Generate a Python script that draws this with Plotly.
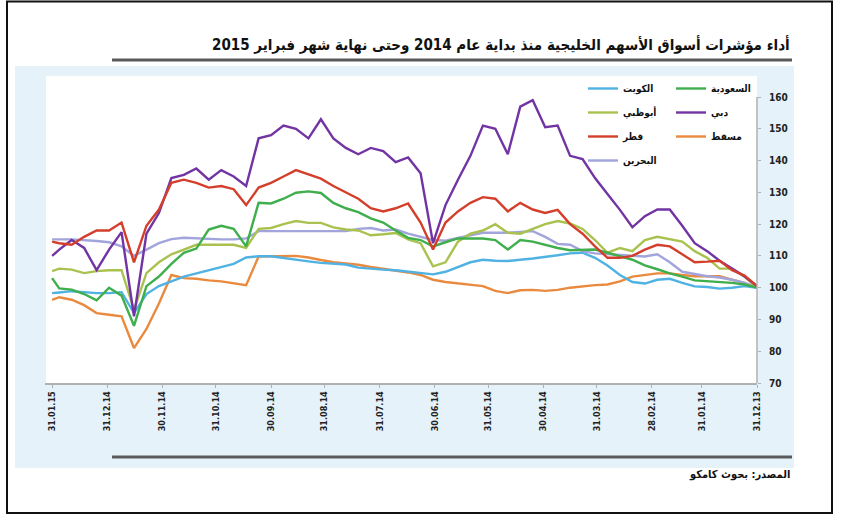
import pandas as pd
import plotly.graph_objects as go

# ---------------- data ----------------
dates = list(pd.date_range("2013-12-31", periods=57, freq="7D").strftime("%Y-%m-%d")) + ["2015-01-31"]

kuwait = [100, 100.5, 100, 99.7, 100.2, 100.4, 101.5, 102.8, 102.5, 101.3,
          101.8, 104, 107, 109.4, 111, 110.8, 110.2, 109.6, 109.2, 108.8,
          108.4, 108.5, 108.8, 108, 106.5, 105, 104.2, 104.6, 105.2, 105.5,
          105.7, 106, 106.3, 107.3, 107.5, 107.8, 108.3, 108.8, 109.4, 109.9,
          109.9, 109.5, 107.5, 106.5, 105.5, 104.6, 103.5, 102, 100.5, 98,
          92, 98.6, 98.3, 98.3, 98.5, 98.9, 98.5, 98.3]

saudi = [100, 101, 101.5, 101.8, 102, 102.3, 103.5, 104.5, 105.8, 107,
         108.8, 110, 111, 112, 112, 111.8, 112.5, 113.5, 114.5, 115,
         112, 115, 115.5, 115.5, 115.5, 114.3, 113, 115, 115.7, 118,
         120.5, 121.8, 123.8, 125, 126.7, 129.8, 130.3, 129.9, 128, 126.5,
         126.7, 113, 118.5, 119.5, 118.3, 112.3, 111, 107.5, 103.5, 100.5,
         88, 97.5, 100, 96, 98, 99.4, 99.8, 103]

abudhabi = [100, 103.5, 106, 106, 109.4, 111.5, 114.5, 115.2, 116, 115,
            111.5, 112.5, 111, 115, 118.5, 120.2, 121, 120, 118.5, 117,
            117.3, 120, 118, 117, 114.5, 108, 106.7, 114, 115.2, 117.2,
            116.8, 116.5, 118, 118.3, 119, 120.4, 120.4, 121, 120, 118.8,
            118.5, 112.5, 113.5, 113.5, 113.5, 113.5, 112, 110.5, 108, 104.6,
            93, 105.5, 105.5, 105.2, 104.6, 105.7, 106, 105.2]

dubai = [100.5, 103.5, 106, 108.5, 111.5, 114, 119.5, 124.6, 124.6, 122.5,
         119, 124.5, 129.5, 134.5, 140.5, 141.5, 151, 150.5, 159, 157,
         142, 150, 151, 141.5, 134, 126, 114, 136, 141, 139.5,
         143, 144, 142, 144, 147, 153, 147, 150, 151, 148,
         147, 132, 135, 137, 134, 137.5, 135.5, 134.5, 123.5, 117,
         91, 117.5, 112, 105.5, 112.5, 115, 112, 110]

qatar = [100.5, 103.8, 105.5, 108.5, 108.2, 108, 110.5, 113, 113.5, 112,
         110, 109.4, 109.4, 113, 117, 120, 124.5, 123.5, 124.6, 126.7,
         124, 128, 128.5, 126.7, 124, 120.5, 112, 120.5, 126.5, 125,
         124, 125, 128, 130, 132, 134.3, 135.7, 137, 135, 133,
         131.5, 126, 131, 132, 131.5, 133, 134, 133, 124.6, 119.5,
         108, 120.5, 118, 118, 116, 113.5, 114, 114.5]

muscat = [100, 101.5, 102.5, 103.6, 103.6, 103.6, 104, 104.5, 104.5, 104,
          103.5, 102, 101, 100.8, 100.5, 100, 99.3, 99, 99.3, 99.2,
          98.3, 99, 100.5, 100.9, 101.2, 101.8, 102.5, 104, 104.8, 105.3,
          106, 106.5, 107.2, 107.6, 108, 108.7, 109.5, 110, 109.9, 110,
          109.8, 100.8, 101.5, 102, 102.3, 102.8, 103, 104, 95, 87,
          81, 91, 91.5, 92, 94.5, 96.2, 97, 96.2]

bahrain = [100, 101.5, 102.5, 103.2, 103.6, 104.2, 105, 108, 110.5, 109.8,
           110, 110.3, 110.5, 110.8, 111.5, 113.5, 113.8, 116, 117.8, 117.5,
           117.3, 117.3, 117.3, 116.5, 115.7, 114.8, 115, 116, 117, 118.3,
           118, 118.8, 118.5, 117.8, 117.8, 117.8, 118, 117.8, 117.8, 117.8,
           117.8, 115.5, 115.2, 115.2, 115.3, 115.5, 115.7, 115.3, 114, 112,
           110, 113, 114.3, 114.7, 115, 115.2, 115.2, 115.2]

tick_dates = ["2013-12-31", "2014-01-31", "2014-02-28", "2014-03-31", "2014-04-30",
              "2014-05-31", "2014-06-30", "2014-07-31", "2014-08-31", "2014-09-30",
              "2014-10-31", "2014-11-30", "2014-12-31", "2015-01-31"]
tick_labels = ["31.12.13", "31.01.14", "28.02.14", "31.03.14", "30.04.14",
               "31.05.14", "30.06.14", "31.07.14", "31.08.14", "30.09.14",
               "31.10.14", "30.11.14", "31.12.14", "31.01.15"]
y_ticks = [70, 80, 90, 100, 110, 120, 130, 140, 150, 160]

title_text = "أداء مؤشرات أسواق الأسهم الخليجية منذ بداية عام 2014 وحتى نهاية شهر فبراير 2015"
source_text = "المصدر: بحوث كامكو"

# ---------------- figure ----------------
W, H = 856, 527
L, R, T, B = 45, 757, 78, 383   # plot area in pixels


def px(x):
    return (x - L) / (R - L)


def py(y):
    return (B - y) / (B - T)


FONT = "DejaVu Sans Condensed, DejaVu Sans, sans-serif"

series = [
    ("الكويت", kuwait, "#4fb2e3", "legend"),
    ("أبوظبي", abudhabi, "#a9c24f", "legend"),
    ("قطر", qatar, "#d43f2c", "legend"),
    ("البحرين", bahrain, "#a2a4dc", "legend"),
    ("السعودية", saudi, "#3fae4c", "legend2"),
    ("دبي", dubai, "#7234a3", "legend2"),
    ("مسقط", muscat, "#ea8a3f", "legend2"),
]

fig = go.Figure()
draw_order = ["مسقط", "الكويت", "البحرين", "أبوظبي", "السعودية", "دبي", "قطر"]
lookup = {s[0]: s for s in series}
names = [s[0] for s in series]
for name in draw_order:
    n, vals, col, lg = lookup[name]
    fig.add_trace(go.Scatter(
        x=dates, y=vals, mode="lines", name="<b>" + n + "</b>",
        line=dict(color=col, width=2.4), legend=lg, legendgroup=n,
        legendrank=names.index(n),
    ))

shapes = [
    # light blue panel
    dict(type="rect", xref="paper", yref="paper", x0=px(15), x1=px(794), y0=py(468), y1=py(66),
         fillcolor="#e5f2f9", line=dict(width=0), layer="below"),
    # white plot area
    dict(type="rect", xref="paper", yref="paper", x0=px(46), x1=px(757), y0=py(384), y1=py(76),
         fillcolor="#ffffff", line=dict(width=0), layer="below"),
    # y axis line
    dict(type="line", xref="paper", yref="y", x0=1, x1=1, y0=70, y1=160,
         line=dict(color="#b0b0b0", width=1.5)),
    # bars under title and above source
    dict(type="line", xref="paper", yref="paper", x0=px(112), x1=px(792), y0=py(60), y1=py(60),
         line=dict(color="#5a5a5a", width=3)),
    dict(type="line", xref="paper", yref="paper", x0=px(112), x1=px(792), y0=py(457), y1=py(457),
         line=dict(color="#5a5a5a", width=3)),
    # outer frame
    dict(type="rect", xref="paper", yref="paper", x0=px(7), x1=px(832), y0=py(513), y1=py(1.5),
         line=dict(color="#111111", width=2), fillcolor="rgba(0,0,0,0)"),
]

annotations = [
    dict(text="<b>" + title_text + "</b>", xref="paper", yref="paper", x=px(792), y=py(44),
         xanchor="right", yanchor="middle", showarrow=False,
         font=dict(family=FONT, size=15, color="#111111")),
    dict(text="<b>" + source_text + "</b>", xref="paper", yref="paper", x=px(792), y=py(474),
         xanchor="right", yanchor="middle", showarrow=False,
         font=dict(family=FONT, size=11, color="#111111")),
]

legend_common = dict(
    bgcolor="rgba(0,0,0,0)", borderwidth=0, tracegroupgap=5,
    font=dict(family=FONT, size=10, color="#111111"),
    xanchor="left", yanchor="top", orientation="v", traceorder="grouped",
)

fig.update_layout(
    width=W, height=H,
    margin=dict(l=L, r=W - R, t=T, b=H - B, pad=0),
    paper_bgcolor="#ffffff",
    plot_bgcolor="rgba(0,0,0,0)",
    showlegend=True,
    legend=dict(x=px(583), y=py(74), **legend_common),
    legend2=dict(x=px(671), y=py(74), **legend_common),
    shapes=shapes,
    annotations=annotations,
    xaxis=dict(
        type="date", range=["2015-02-04", "2013-12-31"],
        tickmode="array", tickvals=tick_dates, ticktext=["<b>" + t + "</b>" for t in tick_labels],
        tickangle=-90, ticks="outside", ticklen=3, tickcolor="#b0b0b0",
        showline=True, linecolor="#b0b0b0", linewidth=1.5,
        showgrid=False, zeroline=False,
        tickfont=dict(family=FONT, size=9, color="#222222"),
    ),
    yaxis=dict(
        range=[70, 166], side="right",
        tickmode="array", tickvals=y_ticks, ticktext=["<b>%d</b>" % v for v in y_ticks],
        ticks="outside", ticklen=3, tickcolor="#b0b0b0",
        showline=False, showgrid=False, zeroline=False,
        tickfont=dict(family=FONT, size=10, color="#222222"),
        ticklabelstandoff=6,
    ),
)

fig.write_html("out.html", config={"displayModeBar": False},
               post_script="document.body.style.margin='0px';")
